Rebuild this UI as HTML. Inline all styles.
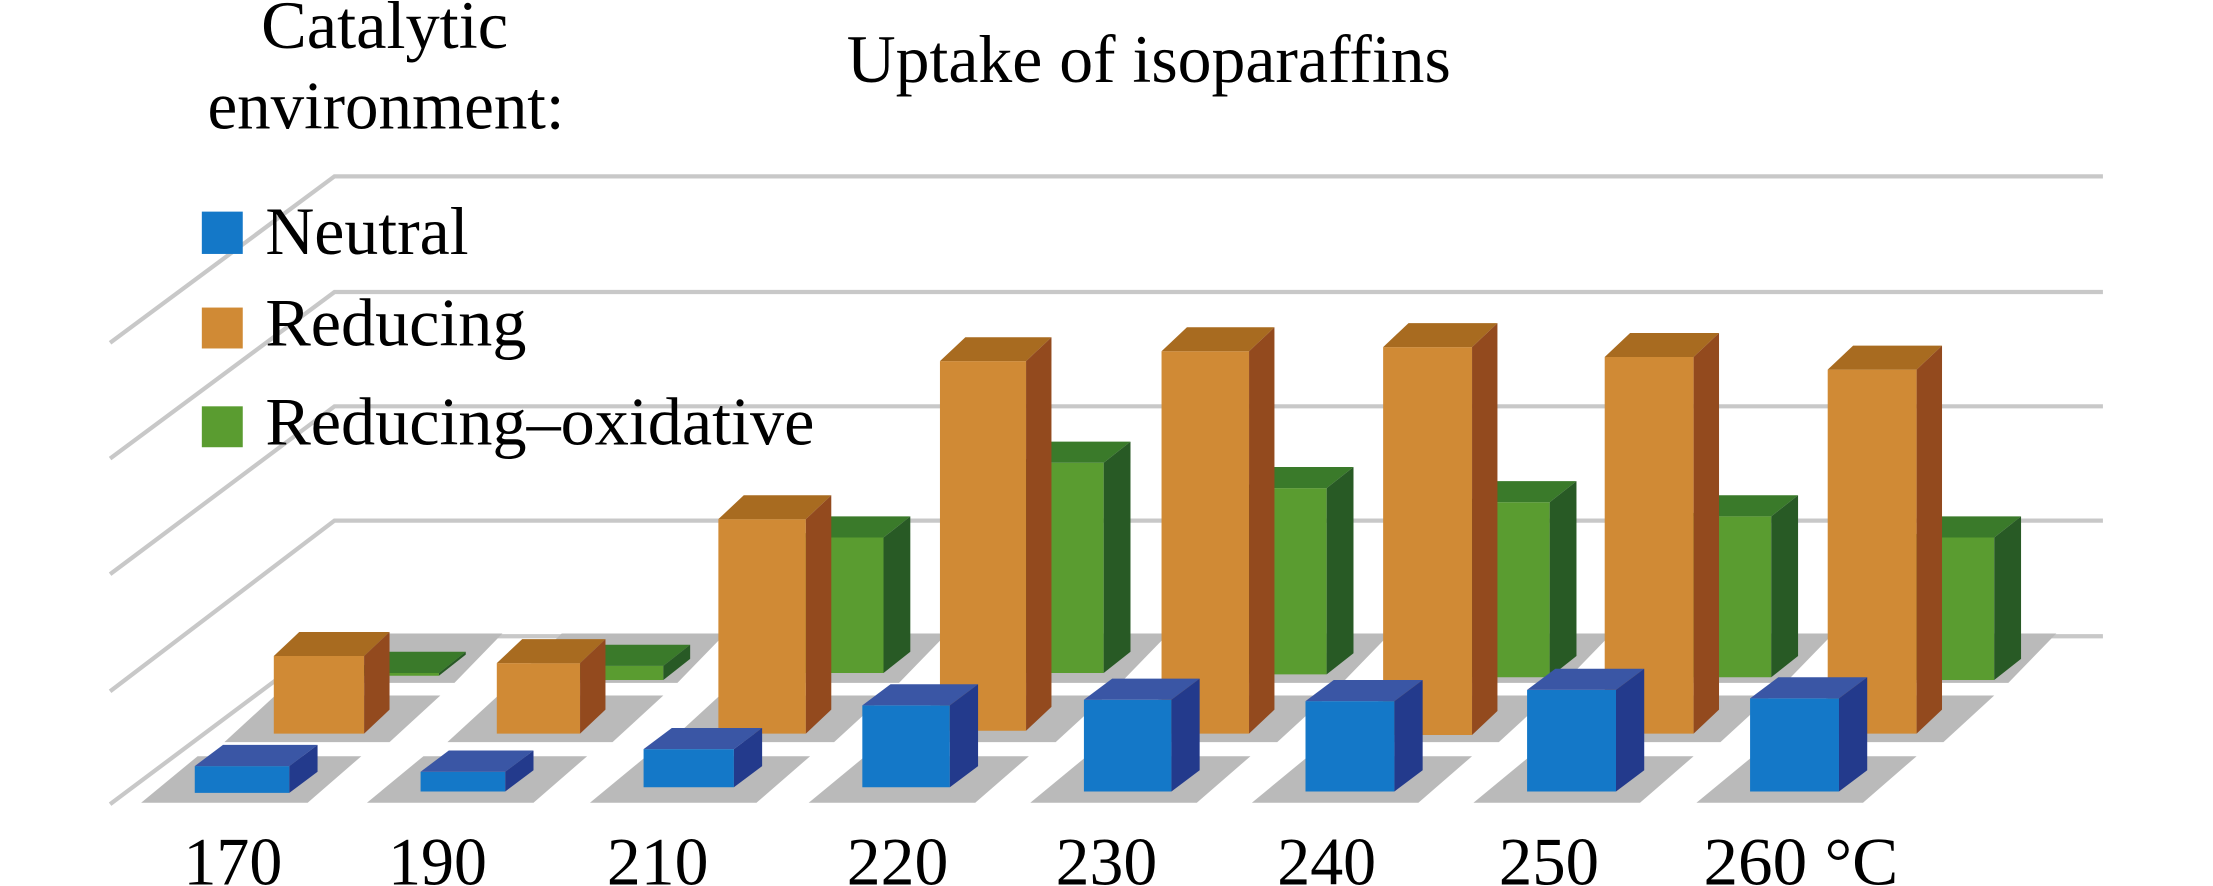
<!DOCTYPE html>
<html><head><meta charset="utf-8"><style>html,body{margin:0;padding:0;background:#fff;overflow:hidden}svg{display:block}</style></head>
<body>
<svg id="s" width="2213" height="886" viewBox="0 0 1568 628" preserveAspectRatio="none" xmlns="http://www.w3.org/2000/svg" font-family="'Liberation Serif',serif">
<g stroke="#c8c8c8" stroke-width="3" fill="none">
<polyline points="78,243 237,125 1490,125"/>
<polyline points="78,325 237,207 1490,207"/>
<polyline points="78,407 237,288 1490,288"/>
<polyline points="78,490 237,369 1490,369"/>
<polyline points="78,570 237,451 1490,451"/>
</g>
<g id="tiles" fill="#bababa"></g>
<g id="bars"></g>
<g font-size="48">
<text x="185" y="34" textLength="175" lengthAdjust="spacingAndGlyphs">Catalytic</text>
<text x="147" y="91" textLength="253" lengthAdjust="spacingAndGlyphs">environment:</text>
<text x="600" y="58" textLength="428" lengthAdjust="spacingAndGlyphs">Uptake of isoparaffins</text>
<text x="188" y="180" textLength="144" lengthAdjust="spacingAndGlyphs">Neutral</text>
<text x="188" y="245" textLength="185" lengthAdjust="spacingAndGlyphs">Reducing</text>
<text x="188" y="315" textLength="389" lengthAdjust="spacingAndGlyphs">Reducing–oxidative</text>
</g>
<rect x="143" y="150" width="29" height="30" fill="#1478c8"/>
<rect x="143" y="218" width="29" height="29" fill="#d08a35"/>
<rect x="143" y="288" width="29" height="29" fill="#5a9c30"/>
<g font-size="48">
<text x="130" y="627" textLength="70" lengthAdjust="spacingAndGlyphs">170</text>
<text x="275" y="627" textLength="70" lengthAdjust="spacingAndGlyphs">190</text>
<text x="430" y="627" textLength="72" lengthAdjust="spacingAndGlyphs">210</text>
<text x="600" y="627" textLength="72" lengthAdjust="spacingAndGlyphs">220</text>
<text x="748" y="627" textLength="72" lengthAdjust="spacingAndGlyphs">230</text>
<text x="905" y="627" textLength="70" lengthAdjust="spacingAndGlyphs">240</text>
<text x="1062" y="627" textLength="71" lengthAdjust="spacingAndGlyphs">250</text>
<text x="1207" y="627" textLength="138" lengthAdjust="spacingAndGlyphs">260 °C</text>
</g>
</svg>
<script>
var NS="http://www.w3.org/2000/svg";
function poly(g,pts,fill){var p=document.createElementNS(NS,"polygon");p.setAttribute("points",pts.map(function(a){return a.join(",")}).join(" "));p.setAttribute("fill",fill);g.appendChild(p);}
function bar(g,x,w,top,bot,dx,dy,c){
 poly(g,[[x,top],[x+w,top],[x+w,bot],[x,bot]],c[0]);
 poly(g,[[x,top],[x+w,top],[x+w+dx,top+dy],[x+dx,top+dy]],c[1]);
 poly(g,[[x+w,top],[x+w+dx,top+dy],[x+w+dx,bot+dy],[x+w,bot]],c[2]);
}
var B=["#1478c8","#3a56a5","#233a8c"],O=["#d08a35","#a86b20","#934a1e"],G=["#5a9c30","#3a7a2a","#285a25"];
var blue=[[138,67,543,562],[298,60,547,561],[456,64,531,558],[611,62,500,558],[768,62,496,561],[925,63,497,561],[1082,63,489,561],[1240,63,495,561]];
var orange=[[194,64,465,520],[352,59,470,520],[509,62,368,520],[666,61,256,518],[823,62,249,520],[980,63,246,521],[1137,63,253,520],[1295,63,262,520]];
var green=[[251,60,477,479],[410,60,472,482],[567,59,381,477],[724,58,328,477],[882,58,346,478],[1040,58,356,480],[1197,58,366,480],[1355,58,381,482]];
var T=document.getElementById("tiles"),G0=document.getElementById("bars");
for(var i=0;i<8;i++){
 var ox=orange[i][0],bx=blue[i][0];
 poly(T,[[ox+10,484],[ox+128,484],[ox+162,449],[ox+46,449]],"#bababa");
 poly(T,[[ox-35,526],[ox+82,526],[ox+118,493],[ox+1,493]],"#bababa");
 poly(T,[[bx-38,569],[bx+80,569],[bx+118,536],[bx+2,536]],"#bababa");
}
for(var i=0;i<8;i++){var g=green[i];bar(G0,g[0],g[1],g[2],g[3],19,-15,G);}
for(var i=0;i<8;i++){var g=orange[i];bar(G0,g[0],g[1],g[2],g[3],18,-17,O);}
for(var i=0;i<8;i++){var g=blue[i];bar(G0,g[0],g[1],g[2],g[3],20,-15,B);}
</script>
</body></html>
